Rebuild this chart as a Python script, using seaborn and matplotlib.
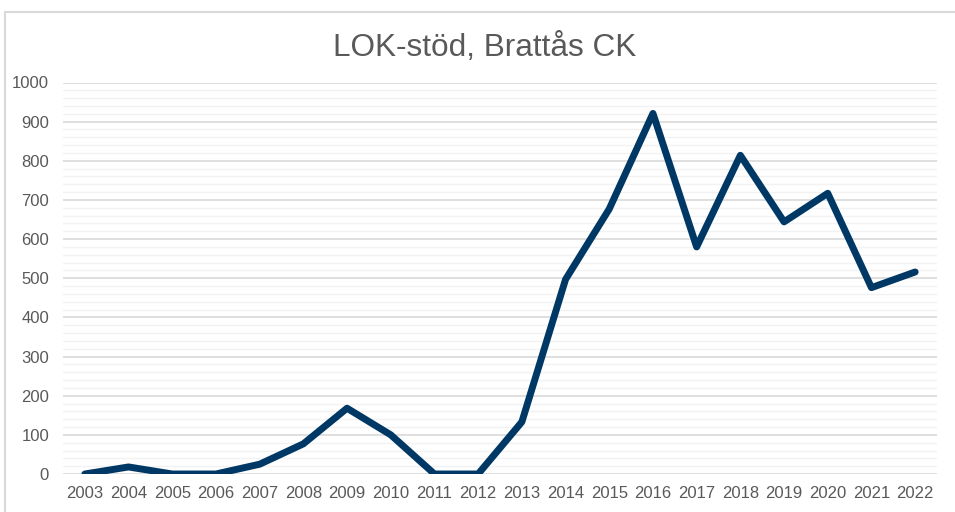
import numpy as np
import pandas as pd
import matplotlib.pyplot as plt
import seaborn as sns
from matplotlib.lines import Line2D
from matplotlib.ticker import MultipleLocator

# Data
years = ['2003', '2004', '2005', '2006', '2007', '2008', '2009', '2010', '2011', '2012',
         '2013', '2014', '2015', '2016', '2017', '2018', '2019', '2020', '2021', '2022']
lok_stod = [0, 18, 0, 0, 25, 77, 168, 100, 0, 0,
            133, 497, 677, 921, 580, 814, 644, 717, 476, 516]

df = pd.DataFrame({'År': years, 'LOK-stöd': lok_stod})

sns.set_theme(style='white')
plt.rcParams['font.family'] = ['Liberation Sans', 'DejaVu Sans']

fig = plt.figure(figsize=(9.55, 5.12), dpi=100)
ax = fig.add_axes([63 / 955, 1 - 474 / 512, (937 - 63) / 955, (474 - 82.5) / 512])

sns.lineplot(data=df, x='År', y='LOK-stöd', ax=ax, color='#003865', linewidth=5,
             solid_capstyle='round', solid_joinstyle='round', zorder=3)

ax.set_xlim(-0.5, len(years) - 0.5)
ax.set_ylim(0, 1000)
ax.yaxis.set_major_locator(MultipleLocator(100))
ax.yaxis.set_minor_locator(MultipleLocator(20))
ax.grid(which='minor', axis='y', color='#F2F2F2', linewidth=1.0, zorder=0)
ax.grid(which='major', axis='y', color='#D9D9D9', linewidth=1.2, zorder=1)
ax.set_axisbelow(True)
for s in ax.spines.values():
    s.set_visible(False)
ax.tick_params(axis='both', which='both', length=0, labelsize=12, labelcolor='#595959')
ax.tick_params(axis='y', pad=10)
ax.tick_params(axis='x', pad=9)
ax.set_xlabel('')
ax.set_ylabel('')

fig.text(485 / 955, 1 - 48 / 512, 'LOK-stöd, Brattås CK', ha='center', va='center',
         fontsize=22.7, color='#595959')

# ram runt diagrammet (syns upptill och till vänster)
fig.add_artist(Line2D([5 / 955, 1.0], [1 - 12 / 512, 1 - 12 / 512], color='#D9D9D9', linewidth=1.5))
fig.add_artist(Line2D([5 / 955, 5 / 955], [0.0, 1 - 12 / 512], color='#D9D9D9', linewidth=1.5))

fig.savefig('out.png', dpi=100, facecolor='white')
